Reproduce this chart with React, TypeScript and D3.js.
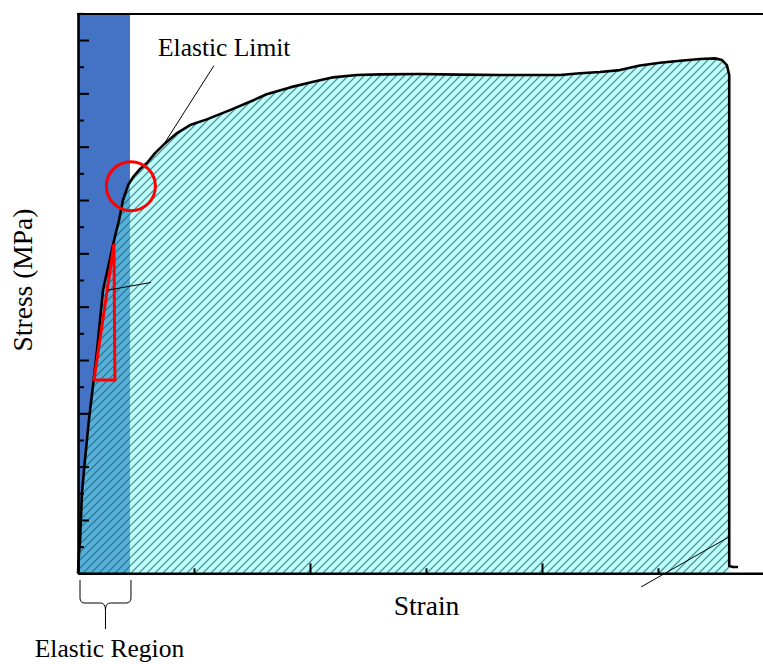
import React, { useEffect, useRef } from 'react';
import * as d3 from 'd3';

const W = 763;
const H = 664;
const FONT = '"Liberation Serif", "Times New Roman", serif';

// stress-strain curve
const strain = [
  0, 0.0004, 0.0009, 0.0017, 0.003, 0.0047, 0.0065, 0.0082, 0.0095, 0.0108,
  0.0129, 0.0151, 0.0164, 0.0177, 0.0194, 0.0216, 0.0241, 0.0267, 0.0297, 0.0332,
  0.0375, 0.0427, 0.0483, 0.0555, 0.0655, 0.0741, 0.0813, 0.0914, 0.1014, 0.11,
  0.1201, 0.1302, 0.1474, 0.1647, 0.1819, 0.1991, 0.2078, 0.2164, 0.225, 0.2336,
  0.2422, 0.2509, 0.2595, 0.2681, 0.2746, 0.2776, 0.2797, 0.2807, 0.2807, 0.2823,
  0.2845
];
const stress = [
  0, 17.2, 31.2, 75.3, 106.2, 143.7, 176.5, 209.3, 237.5, 265.6,
  286.2, 307.8, 320, 331.2, 350, 364, 372.5, 379, 384.7, 394,
  403.1, 412.8, 420.3, 425.6, 434.3, 442.1, 449.1, 455.6, 460.9, 465,
  467.2, 467.8, 468.1, 467.6, 467.2, 467.2, 467.2, 468.8, 470, 471.8,
  476.1, 478.7, 480.6, 482.2, 482.8, 481.2, 476.5, 467.2, 6.8, 5.9,
  5.9
];
// the shaded area stops where the specimen breaks
const areaCount = 49;

const xMajor = [0, 0.1, 0.2, 0.3];
const xMinor = [0.05, 0.15, 0.25];
const yMajor = [0, 50, 100, 150, 200, 250, 300, 350, 400, 450, 500];
const yMinor = [25, 75, 125, 175, 225, 275, 325, 375, 425, 475, 525];

// annotations
const elasticEnd = 0.0224;
const limitPoint = [0.0228, 363];
const triangle = [[0.0069, 181.2], [0.0159, 181.2], [0.0155, 308.7]];
const leaders = [
  [[0.0586, 476], [0.0375, 404]],
  [[0.0129, 265.5], [0.0315, 272.7]],
  [[0.2806, 34.1], [0.2427, -12.8]],
];

export default function App() {
  const ref = useRef<SVGSVGElement>(null);

  useEffect(() => {
    const svg = d3.select(ref.current);
    svg.selectAll('*').remove();

    const x = d3.scaleLinear().domain([0, 0.3]).range([78, 774]);
    const y = d3.scaleLinear().domain([0, 524.4]).range([573.3, 14]);

    const pts: [number, number][] = strain.map((s, i) => [s, stress[i]]);

    //  diagonal hatch, 8px repeat
    const defs = svg.append('defs');
    const pat = defs.append('pattern')
      .attr('id', 'hatch')
      .attr('patternUnits', 'userSpaceOnUse')
      .attr('width', 8)
      .attr('height', 8);
    pat.append('path')
      .attr('d', 'M-2,2 L2,-2 M0,8 L8,0 M6,10 L10,6')
      .attr('stroke', '#2a5a5a')
      .attr('stroke-opacity', 0.68)
      .attr('stroke-width', 1.25);

    //  elastic region band
    svg.append('rect')
      .attr('x', x(0))
      .attr('y', y(524.4))
      .attr('width', x(elasticEnd) - x(0))
      .attr('height', y(0) - y(524.4))
      .attr('fill', '#4472C4');

    const area = d3.area<[number, number]>()
      .x(d => x(d[0]))
      .y0(y(0))
      .y1(d => y(d[1]));

    svg.append('path')
      .attr('d', area(pts.slice(0, areaCount)))
      .attr('fill', '#68FFFF')
      .attr('fill-opacity', 0.45);
    svg.append('path')
      .attr('d', area(pts.slice(0, areaCount)))
      .attr('fill', 'url(#hatch)');

    const line = d3.line<[number, number]>()
      .x(d => x(d[0]))
      .y(d => y(d[1]));

    svg.append('path')
      .attr('d', line(pts))
      .attr('fill', 'none')
      .attr('stroke', '#000')
      .attr('stroke-width', 2.6)
      .attr('stroke-linejoin', 'round');

    //  axes, ticks pointing inward
    const left = svg.append('g').attr('transform', `translate(${x(0)},0)`);
    left.call(d3.axisRight(y).tickValues(yMajor).tickSize(11).tickSizeOuter(0).tickFormat(() => ''));
    const leftMinor = svg.append('g').attr('transform', `translate(${x(0)},0)`);
    leftMinor.call(d3.axisRight(y).tickValues(yMinor).tickSize(6).tickSizeOuter(0).tickFormat(() => ''));
    leftMinor.select('.domain').remove();

    const bottom = svg.append('g').attr('transform', `translate(0,${y(0)})`);
    bottom.call(d3.axisTop(x).tickValues(xMajor).tickSize(10).tickSizeOuter(0).tickFormat(() => ''));
    const bottomMinor = svg.append('g').attr('transform', `translate(0,${y(0)})`);
    bottomMinor.call(d3.axisTop(x).tickValues(xMinor).tickSize(5).tickSizeOuter(0).tickFormat(() => ''));
    bottomMinor.select('.domain').remove();

    svg.selectAll('.domain').attr('stroke-width', 2.6);
    svg.selectAll('.tick line').attr('stroke-width', 2);

    svg.append('line')
      .attr('x1', x(0) - 1).attr('x2', W)
      .attr('y1', y(524.4)).attr('y2', y(524.4))
      .attr('stroke', '#000')
      .attr('stroke-width', 2);

    //  annotations
    svg.append('circle')
      .attr('cx', x(limitPoint[0]))
      .attr('cy', y(limitPoint[1]))
      .attr('r', 24.5)
      .attr('fill', 'none')
      .attr('stroke', '#FF0000')
      .attr('stroke-width', 3);

    svg.append('polygon')
      .attr('points', triangle.map(d => `${x(d[0])},${y(d[1])}`).join(' '))
      .attr('fill', 'none')
      .attr('stroke', '#FF0000')
      .attr('stroke-width', 3);

    leaders.forEach(l => {
      svg.append('line')
        .attr('x1', x(l[0][0])).attr('y1', y(l[0][1]))
        .attr('x2', x(l[1][0])).attr('y2', y(l[1][1]))
        .attr('stroke', '#000')
        .attr('stroke-width', 1);
    });

    //  brace under the elastic region
    const bx0 = x(0) + 2;
    const bx1 = x(elasticEnd) + 1;
    const bm = (bx0 + bx1) / 2;
    svg.append('path')
      .attr('d', `M${bx0},580 V598 Q${bx0},603 ${bx0 + 5},603 H${bm - 5} Q${bm},603 ${bm},610 V629`
        + ` M${bx1},580 V598 Q${bx1},603 ${bx1 - 5},603 H${bm + 5} Q${bm},603 ${bm},610`)
      .attr('fill', 'none')
      .attr('stroke', '#000')
      .attr('stroke-width', 1);

    const text = (t: string, tx: number, ty: number, size: number, anchor: string) =>
      svg.append('text')
        .attr('x', tx).attr('y', ty)
        .attr('text-anchor', anchor)
        .attr('font-family', FONT)
        .attr('font-size', size)
        .attr('fill', '#000')
        .text(t);

    text('Elastic Limit', 158, 56, 25.5, 'start');
    text('Elastic Region', 109.5, 657, 25.5, 'middle');
    text('Strain', 426.5, 615, 27.5, 'middle');
    text('Stress (MPa)', 0, 0, 27.5, 'middle')
      .attr('transform', 'translate(32,280) rotate(-90)');
  }, []);

  return (
    <svg
      ref={ref}
      width={W}
      height={H}
      style={{ position: 'absolute', left: 0, top: 0, background: '#fff' }}
    />
  );
}
